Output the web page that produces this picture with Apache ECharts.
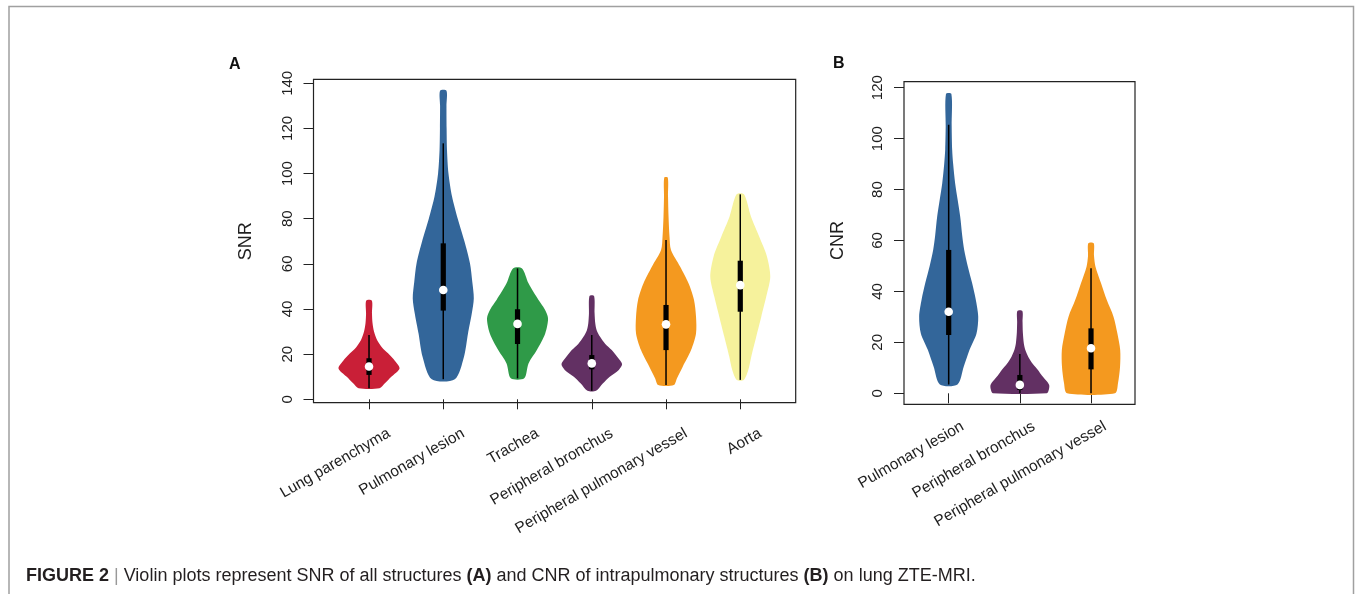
<!DOCTYPE html>
<html><head><meta charset="utf-8">
<script src="https://cdn.jsdelivr.net/npm/echarts@6/dist/echarts.min.js"></script>
<style>html,body{margin:0;padding:0;background:#fff}#c{width:1355px;height:594px}</style>
</head><body><div id="c"></div>
<script>
// ---------- Panel A: SNR ----------
const snrCategories = ['Lung parenchyma', 'Pulmonary lesion', 'Trachea', 'Peripheral bronchus', 'Peripheral pulmonary vessel', 'Aorta'];
const snrAxisMin = 0, snrAxisMax = 140, snrAxisStep = 20;
// violin outlines: y values and half-widths (in category units)
const snrViolinY = [
  [4.9, 7, 10, 13.7, 17, 20.4, 23, 26.3, 30, 33.8, 38, 43.7],
  [8.9, 18.9, 29.2, 38, 44.7, 52, 60.2, 70, 80, 89.8, 100, 110.4, 120, 130, 136.7],
  [9.3, 15.9, 21.8, 29.2, 35.9, 40, 44, 51.4, 58],
  [3.8, 7, 10, 13, 15.6, 18.5, 21.8, 24.5, 27.7, 30.5, 33.7, 38, 45.8],
  [6.3, 9.3, 14.4, 21.8, 29.2, 36.6, 44, 51.4, 58.8, 66.1, 72, 80.9, 90, 98.2],
  [8.6, 13, 18.9, 27.7, 36.6, 45.5, 54.3, 63.2, 72, 80.9, 90.8]
];
const snrViolinHalfWidth = [
  [0.141, 0.21, 0.30, 0.411, 0.350, 0.256, 0.175, 0.108, 0.067, 0.047, 0.040, 0.038],
  [0.155, 0.279, 0.333, 0.384, 0.411, 0.391, 0.360, 0.285, 0.195, 0.118, 0.070, 0.050, 0.045, 0.043, 0.043],
  [0.090, 0.148, 0.260, 0.373, 0.411, 0.364, 0.283, 0.148, 0.061],
  [0.058, 0.148, 0.242, 0.364, 0.408, 0.350, 0.269, 0.182, 0.112, 0.067, 0.047, 0.038, 0.031],
  [0.105, 0.148, 0.225, 0.337, 0.404, 0.404, 0.377, 0.303, 0.189, 0.067, 0.047, 0.034, 0.027, 0.024],
  [0.047, 0.108, 0.148, 0.215, 0.283, 0.350, 0.404, 0.360, 0.256, 0.145, 0.050]
];
const snrWhiskerLow  = [4.9, 8.9, 9.3, 3.8, 6.3, 8.6];
const snrQ1          = [10.8, 39.3, 24.5, 13.3, 21.8, 38.8];
const snrMedian      = [14.5, 48.4, 33.4, 15.9, 33.2, 50.6];
const snrQ3          = [18.2, 69.1, 39.9, 19.6, 41.8, 61.4];
const snrWhiskerHigh = [28.5, 113.4, 58.0, 28.5, 70.6, 90.8];
const snrColors = ['#C91F37', '#33669A', '#2F9A48', '#623063', '#F4991F', '#F6F29C'];

// ---------- Panel B: CNR ----------
const cnrCategories = ['Pulmonary lesion', 'Peripheral bronchus', 'Peripheral pulmonary vessel'];
const cnrAxisMin = 0, cnrAxisMax = 120, cnrAxisStep = 20;
const cnrViolinY = [
  [3.5, 10.4, 17, 23.5, 30.1, 37, 43.2, 50, 56.3, 62, 69.3, 76, 82.4, 90, 95.6, 105, 117.5],
  [0, 1.5, 3.3, 5.2, 7, 9.1, 11.5, 14.4, 17, 19.6, 24, 28, 32.3],
  [0, 3.9, 10.4, 17, 23.6, 30.1, 36.6, 43.2, 49.7, 54, 58.9]
];
const cnrViolinHalfWidth = [
  [0.124, 0.211, 0.292, 0.391, 0.415, 0.379, 0.330, 0.267, 0.218, 0.190, 0.162, 0.126, 0.091, 0.063, 0.049, 0.042, 0.038],
  [0.379, 0.408, 0.412, 0.363, 0.309, 0.257, 0.183, 0.117, 0.077, 0.056, 0.042, 0.038, 0.035],
  [0.337, 0.379, 0.408, 0.410, 0.370, 0.316, 0.222, 0.141, 0.063, 0.042, 0.038]
];
const cnrWhiskerLow  = [3.5, 0, 0];
const cnrQ1          = [22.9, 1.3, 9.4];
const cnrMedian      = [32.0, 3.3, 17.7];
const cnrQ3          = [56.3, 7.2, 25.5];
const cnrWhiskerHigh = [105.5, 15.4, 49.1];
const cnrColors = ['#33669A', '#623063', '#F4991F'];

const FONT = "'Liberation Sans', Arial, Helvetica, sans-serif";
const NARROW = "'Liberation Sans Narrow', 'Liberation Sans', sans-serif";
const TXT = '#1e1e1e';

function violinSeries(xIdx, yIdx, cats, ys, hws, lo, q1, med, q3, hi, colors) {
  return {
    type: 'custom', xAxisIndex: xIdx, yAxisIndex: yIdx, clip: false,
    data: cats.map((c, i) => [i, med[i]]),
    encode: { x: 0, y: 1 },
    renderItem: function (params, api) {
      const i = params.dataIndex;
      const band = api.size([1, 0])[0];
      const cx = api.coord([i, 0])[0];
      const right = ys[i].map((y, k) => [cx + hws[i][k] * band, api.coord([i, y])[1]]);
      const left = ys[i].map((y, k) => [cx - hws[i][k] * band, api.coord([i, y])[1]]).reverse();
      const yLo = api.coord([i, lo[i]])[1], yHi = api.coord([i, hi[i]])[1];
      const yQ1 = api.coord([i, q1[i]])[1], yQ3 = api.coord([i, q3[i]])[1];
      const yMed = api.coord([i, med[i]])[1];
      return {
        type: 'group',
        children: [
          { type: 'polygon', shape: { points: right.concat(left), smooth: 0.28 }, style: { fill: colors[i], stroke: null } },
          { type: 'line', shape: { x1: cx, y1: yHi, x2: cx, y2: yLo }, style: { stroke: '#000', lineWidth: 1.5 } },
          { type: 'rect', shape: { x: cx - 2.6, y: yQ3, width: 5.2, height: yQ1 - yQ3 }, style: { fill: '#000' } },
          { type: 'circle', shape: { cx: cx, cy: yMed, r: 4.3 }, style: { fill: '#fff' } }
        ]
      };
    }
  };
}

const option = {
  animation: false,
  backgroundColor: '#fff',
  textStyle: { fontFamily: FONT, color: TXT },
  title: [
    { text: 'A', left: 224, top: 52, textStyle: { fontSize: 16, fontWeight: 'bold', fontFamily: FONT, color: '#111' } },
    { text: 'B', left: 828, top: 51, textStyle: { fontSize: 16, fontWeight: 'bold', fontFamily: FONT, color: '#111' } },
    {
      text: '{b|FIGURE 2} {s||} Violin plots represent SNR of all structures {b|(A)} and CNR of intrapulmonary structures {b|(B)} on lung ZTE-MRI.',
      left: 21, top: 562,
      textStyle: {
        fontSize: 18, fontFamily: NARROW, fontWeight: 'normal', color: '#231F20',
        rich: {
          b: { fontSize: 18, fontFamily: NARROW, fontWeight: 'bold', color: '#231F20' },
          s: { fontSize: 18, fontFamily: NARROW, fontWeight: 'normal', color: '#999' }
        }
      }
    }
  ],
  grid: [
    { left: 331.9, top: 83.3, width: 445.5, height: 316 },
    { left: 351.9, top: 83.3, width: 445.5, height: 316 },
    { left: 913.1, top: 87.7, width: 213.5, height: 305.6 },
    { left: 927.1, top: 87.7, width: 213.5, height: 305.6 }
  ],
  xAxis: [
    { gridIndex: 0, type: 'category', data: snrCategories, offset: 3.5,
      axisLine: { show: false }, axisTick: { show: true, interval: 0, alignWithLabel: true, length: 10, lineStyle: { color: '#222', width: 1 } },
      axisLabel: { show: false, interval: 0 }, splitLine: { show: false } },
    { gridIndex: 1, type: 'category', data: snrCategories,
      axisLine: { show: false }, axisTick: { show: false },
      axisLabel: { rotate: 30, fontSize: 15.5, margin: 33, color: TXT, fontFamily: FONT, interval: 0 } },
    { gridIndex: 2, type: 'category', data: cnrCategories, offset: 11,
      axisLine: { show: false }, axisTick: { show: true, interval: 0, alignWithLabel: true, length: 10, lineStyle: { color: '#222', width: 1 } },
      axisLabel: { show: false, interval: 0 }, splitLine: { show: false } },
    { gridIndex: 3, type: 'category', data: cnrCategories,
      axisLine: { show: false }, axisTick: { show: false },
      axisLabel: { rotate: 30, fontSize: 15.5, margin: 32, color: TXT, fontFamily: FONT, interval: 0 } }
  ],
  yAxis: [
    { gridIndex: 0, type: 'value', min: snrAxisMin, max: snrAxisMax, interval: snrAxisStep, offset: 18.4,
      axisLine: { show: false }, axisTick: { show: true, length: 10, lineStyle: { color: '#222', width: 1 } },
      splitLine: { show: false },
      axisLabel: { rotate: 90, fontSize: 15, margin: 18, color: TXT, fontFamily: FONT },
      name: 'SNR', nameLocation: 'middle', nameRotate: 90, nameGap: 58,
      nameTextStyle: { fontSize: 18, color: TXT, fontFamily: FONT } },
    { gridIndex: 1, type: 'value', min: snrAxisMin, max: snrAxisMax, show: false },
    { gridIndex: 2, type: 'value', min: cnrAxisMin, max: cnrAxisMax, interval: cnrAxisStep, offset: 9.1,
      axisLine: { show: false }, axisTick: { show: true, length: 10, lineStyle: { color: '#222', width: 1 } },
      splitLine: { show: false },
      axisLabel: { rotate: 90, fontSize: 15, margin: 19, color: TXT, fontFamily: FONT },
      name: 'CNR', nameLocation: 'middle', nameRotate: 90, nameGap: 57,
      nameTextStyle: { fontSize: 18, color: TXT, fontFamily: FONT } },
    { gridIndex: 3, type: 'value', min: cnrAxisMin, max: cnrAxisMax, show: false }
  ],
  series: [
    violinSeries(0, 0, snrCategories, snrViolinY, snrViolinHalfWidth, snrWhiskerLow, snrQ1, snrMedian, snrQ3, snrWhiskerHigh, snrColors),
    violinSeries(2, 2, cnrCategories, cnrViolinY, cnrViolinHalfWidth, cnrWhiskerLow, cnrQ1, cnrMedian, cnrQ3, cnrWhiskerHigh, cnrColors)
  ],
  graphic: [
    { type: 'polyline', silent: true, shape: { points: [[9, 600], [9, 6.5], [1353.5, 6.5], [1353.5, 600]] }, style: { stroke: '#a0a0a0', lineWidth: 1.5, fill: null } },
    { type: 'rect', silent: true, shape: { x: 313.5, y: 79.3, width: 482.2, height: 323.4 }, style: { stroke: '#222', lineWidth: 1.2, fill: null } },
    { type: 'rect', silent: true, shape: { x: 904, y: 81.7, width: 231, height: 322.6 }, style: { stroke: '#222', lineWidth: 1.2, fill: null } }
  ]
};

const chart = echarts.init(document.getElementById('c'), null, { renderer: 'canvas' });
chart.setOption(option);
</script>
</body></html>
